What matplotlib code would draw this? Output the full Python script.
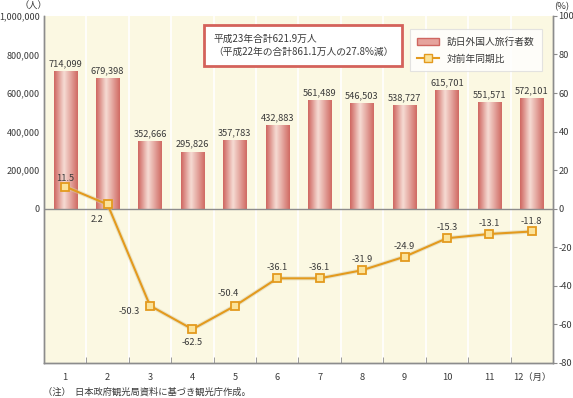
"""Visitors to Japan by month (2011) with year-on-year change."""
import numpy as np
import matplotlib
matplotlib.use('Agg')
import matplotlib.pyplot as plt
from matplotlib.colors import LinearSegmentedColormap
from matplotlib.patches import Rectangle
from matplotlib.lines import Line2D

plt.rcParams['font.family'] = ['Noto Sans CJK JP', 'DejaVu Sans']

months = list(range(1, 13))
month_labels = ['1', '2', '3', '4', '5', '6', '7', '8', '9', '10', '11', '12（月）']
visitors = [714099, 679398, 352666, 295826, 357783, 432883,
            561489, 546503, 538727, 615701, 551571, 572101]
yoy = [11.5, 2.2, -50.3, -62.5, -50.4, -36.1,
       -36.1, -31.9, -24.9, -15.3, -13.1, -11.8]

text_c = '#3a3a3a'
axis_c = '#8c8c8c'
bg_c = '#fbf8e2'
line_c = '#e39a1e'
fs = 6.7

bar_cmap = LinearSegmentedColormap.from_list(
    'bar', [(0.0, '#cf6660'), (0.42, '#f6dcd4'), (1.0, '#d06a63')])

fig = plt.figure(figsize=(5.73, 3.98), dpi=100)
ax = fig.add_axes([0.0768, 0.088, 0.8882, 0.872])
ax.set_facecolor(bg_c)
ax2 = ax.twinx()

# vertical white separators
for b in np.arange(1.5, 12.5, 1):
    ax.axvline(b, color='white', lw=1.2, zorder=0.5)

# bars with gradient fill
bars = ax.bar(months, visitors, width=0.55, color='none', zorder=2)
grad = np.linspace(0, 1, 64).reshape(1, -1)
for rect in bars:
    x0, w, h = rect.get_x(), rect.get_width(), rect.get_height()
    im = ax.imshow(grad, cmap=bar_cmap, aspect='auto', zorder=2,
                   extent=(x0, x0 + w, 0, h), interpolation='bicubic')
    im.set_clip_path(rect)
ax.set_xlim(0.5, 12.5)
ax.set_ylim(-800000, 1000000)
ax2.set_ylim(-80, 100)

for m, v in zip(months, visitors):
    ax.text(m, v + 15000, '{:,}'.format(v), ha='center', va='bottom',
            fontsize=fs, color=text_c, zorder=5)

ax.axhline(0, color=axis_c, lw=1, zorder=3)

# year-on-year line with soft shadow
ax2.plot(months, yoy, color='#d8cfa8', lw=3, alpha=0.5, zorder=3)
ax2.plot(months, yoy, color=line_c, lw=1.5, marker='s', markersize=6,
         markerfacecolor='#fbe39a', markeredgecolor=line_c,
         markeredgewidth=1.3, zorder=4)

offsets = {1: (0, 8), 2: (-10, -14), 3: (-20, -6), 4: (0, -13), 5: (-6, 12)}
for m, p in zip(months, yoy):
    dx, dy = offsets.get(m, (0, 10))
    ax2.annotate('{:.1f}'.format(p), (m, p), xytext=(dx * 0.75, dy * 0.75),
                 textcoords='offset points', ha='center', va='center',
                 fontsize=fs, color=text_c, zorder=6)

# axes styling
ax.set_xticks(months)
ax.set_xticklabels(month_labels, fontsize=fs, color=text_c)
ax.set_xticks(np.arange(1.5, 12.5, 1), minor=True)
ax.tick_params(axis='x', which='major', length=0, pad=7)
ax.tick_params(axis='x', which='minor', length=4, color=axis_c, direction='in')
ax.set_yticks(np.arange(0, 1000001, 200000))
ax.set_yticklabels(['{:,}'.format(v) for v in range(0, 1000001, 200000)],
                   fontsize=6.5, color=text_c)
ax.tick_params(axis='y', length=0, pad=3)
ax2.set_yticks(np.arange(-80, 101, 20))
ax2.set_yticklabels([str(v) for v in range(-80, 101, 20)],
                    fontsize=fs, color=text_c)
ax2.tick_params(axis='y', length=3, color=axis_c, pad=1)

for a in (ax, ax2):
    a.spines['top'].set_visible(False)
    for s in ('left', 'right', 'bottom'):
        a.spines[s].set_color(axis_c)
        a.spines[s].set_linewidth(1)
ax.set_zorder(1)
ax2.set_zorder(2)
ax2.patch.set_visible(False)

# unit labels
fig.text(0.058, 0.995, '（人）', ha='center', va='top', fontsize=fs, color=text_c)
fig.text(0.980, 0.995, '(%)', ha='center', va='top', fontsize=fs, color=text_c)

# annotation box
fig.text(0.372, 0.886, '平成23年合計621.9万人\n（平成22年の合計861.1万人の27.8%減）',
         ha='left', va='center', fontsize=7, color=text_c, linespacing=1.45,
         bbox=dict(boxstyle='square,pad=0.9', facecolor='white',
                   edgecolor='#d4625b', linewidth=2))

# legend
handles = [Rectangle((0, 0), 1, 1, facecolor='#e6a39c', edgecolor='#cf6660'),
           Line2D([], [], color=line_c, lw=1.5, marker='s', markersize=6,
                  markerfacecolor='#fbe39a', markeredgecolor=line_c)]
leg = fig.legend(handles, ['訪日外国人旅行者数', '対前年同期比'],
                 loc='upper right', bbox_to_anchor=(0.946, 0.927),
                 borderaxespad=0, fontsize=7, frameon=True, fancybox=False,
                 handlelength=2.2, borderpad=0.8, labelspacing=0.7,
                 edgecolor='#dddddd')
leg.get_frame().set_linewidth(0.8)
for t in leg.get_texts():
    t.set_color(text_c)

fig.text(0.075, 0.004, '（注）  日本政府観光局資料に基づき観光庁作成。',
         ha='left', va='bottom', fontsize=fs, color=text_c)

fig.savefig('out.png', dpi=100)
